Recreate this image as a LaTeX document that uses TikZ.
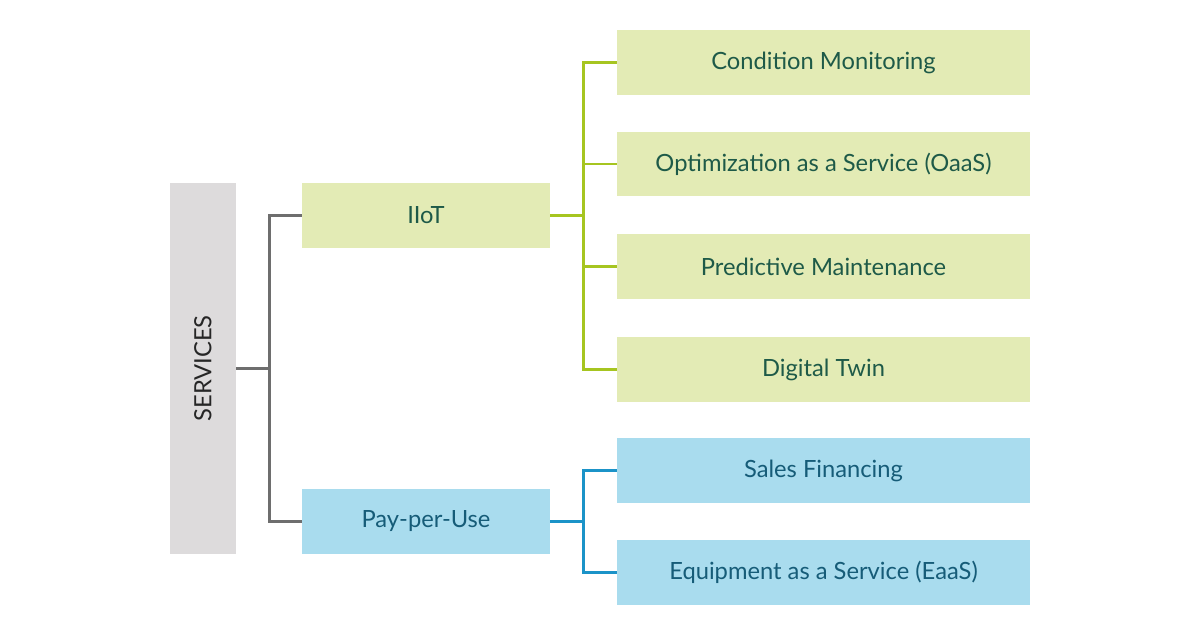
\documentclass[tikz,border=0pt]{standalone}
\usepackage{fontspec}
\setmainfont{Lato}
\usetikzlibrary{positioning}
\definecolor{svcgray}{HTML}{DDDBDC}
\definecolor{iotfill}{HTML}{E3EBB5}
\definecolor{iottext}{HTML}{1E5A48}
\definecolor{iotline}{HTML}{A6C520}
\definecolor{ppufill}{HTML}{A9DCEE}
\definecolor{pputext}{HTML}{165C78}
\definecolor{ppuline}{HTML}{1B93C8}
\definecolor{lnkgray}{HTML}{6E6E6E}
\begin{document}
\begin{tikzpicture}[x=0.02cm, y=-0.02cm, font=\fontsize{13.5}{16}\selectfont]
   \useasboundingbox (0,0) rectangle (1200,635);
   \tikzset{box/.style={minimum height=1.3cm, inner sep=0pt},
            small/.style={box, minimum width=4.96cm},
            big/.style={box, minimum width=8.26cm}}
   \node (s) [fill=svcgray, minimum width=1.32cm, minimum height=7.42cm, inner sep=0pt] at (203,368.5) {};
   \node [rotate=90, text=black!85] at (s.center) {SERVICES};
   \begin{scope}[every node/.style={fill=iotfill, text=iottext}]
    \node (iot) [small] at (426,215.5) {IIoT};
    \node (c1) [big] at (823.5,62.5) {Condition Monitoring};
    \node (c2) [big] at (823.5,164) {Optimization as a Service (OaaS)};
    \node (c3) [big] at (823.5,266.5) {Predictive Maintenance};
    \node (c4) [big] at (823.5,369.5) {Digital Twin};
   \end{scope}
   \begin{scope}[every node/.style={fill=ppufill, text=pputext}]
    \node (ppu) [small] at (426,521.5) {Pay-per-Use};
    \node (p1) [big] at (823.5,470.5) {Sales Financing};
    \node (p2) [big] at (823.5,572.5) {Equipment as a Service (EaaS)};
   \end{scope}
   \begin{scope}[line width=1.6pt]
    \draw [lnkgray] (s.east) -- ++(33,0) |- (iot.west);
    \draw [lnkgray] (s.east) -- ++(33,0) |- (ppu.west);
    \foreach \n in {c1,c2,c3,c4}
     \draw [iotline] (iot.east) -- ++(33,0) |- (\n.west);
    \foreach \n in {p1,p2}
     \draw [ppuline] (ppu.east) -- ++(33,0) |- (\n.west);
   \end{scope}
\end{tikzpicture}
\end{document}
